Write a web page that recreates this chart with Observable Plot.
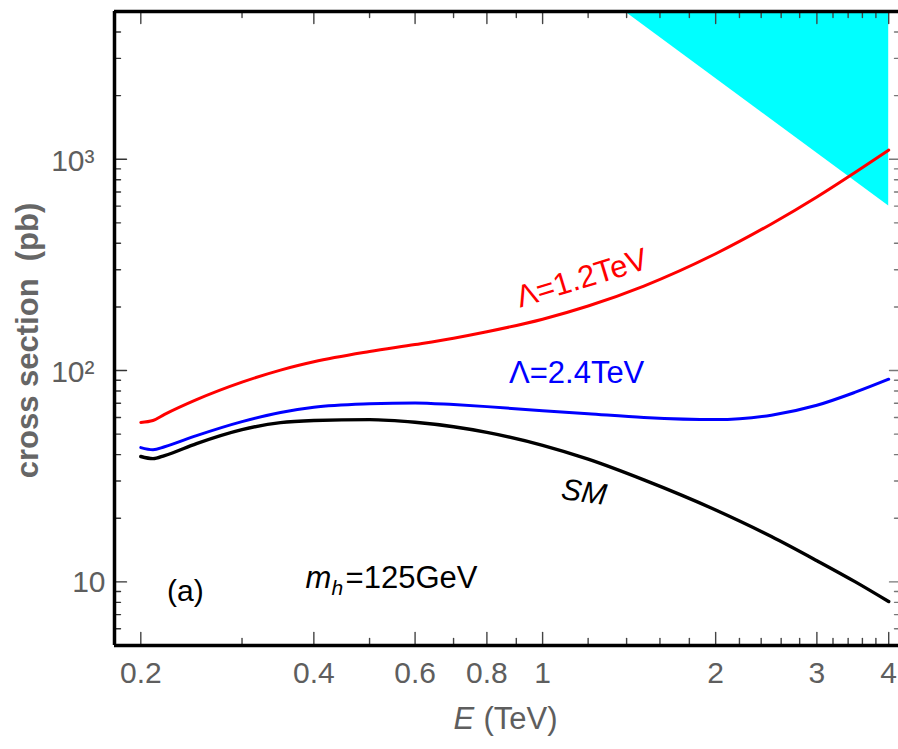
<!DOCTYPE html>
<html>
<head>
<meta charset="utf-8">
<script src="https://cdn.jsdelivr.net/npm/d3@7"></script>
<script src="https://cdn.jsdelivr.net/npm/@observablehq/plot@0.6"></script>
<style>
  html, body { margin: 0; padding: 0; background: #fff; }
  #chart { width: 898px; height: 749px; }
</style>
</head>
<body>
<div id="chart"></div>
<script>
// ---- data ----
const energy = [0.2, 0.21, 0.22, 0.25, 0.3, 0.35, 0.4, 0.5, 0.6, 0.7, 0.8, 1, 1.2, 1.5, 2, 2.5, 3, 3.5, 4];
const sigmaSM = [39.2, 38.3, 39.6, 45.1, 52.5, 56.7, 58.0, 58.6, 56.9, 54.2, 51.0, 44.3, 38.1, 30.4, 21.9, 16.4, 12.6, 10.0, 8.07];
const sigmaL24 = [43.2, 42.2, 43.6, 49.2, 57.3, 63.3, 67.0, 69.6, 70.3, 69, 67.5, 64.6, 62.5, 60.0, 58.6, 61.5, 68.5, 79, 91];
const sigmaL12 = [56.8, 58, 62, 72.8, 88.1, 100.5, 110, 123, 132.8, 142.3, 152.6, 175, 202, 251, 357, 494, 663, 868, 1105];

// excluded (cyan) region boundary
const boundE = [1.39, 4.0];
const boundSigma = [5000, 600];

// ticks
const xMajor = [0.2, 0.4, 0.6, 0.8, 1, 2, 3, 4];
const xMajorLabels = ["0.2", "0.4", "0.6", "0.8", "1", "2", "3", "4"];
const xMinor = [0.3, 0.5, 0.7, 0.9, 1.2, 1.4, 1.6, 1.8, 2.2, 2.4, 2.6, 2.8, 3.2, 3.4, 3.6, 3.8];
const yMajor = [10, 100, 1000];
const yMajorLabels = ["10", "10²", "10³"];
const yMinor = [6, 7, 8, 9, 20, 30, 40, 50, 60, 70, 80, 90, 200, 300, 400, 500, 600, 700, 800, 900, 2000, 3000, 4000];

// ---- build ----
const xDomain = [0.18, 4.16];
const yDomain = [5, 5000];

const rows = (ys) => energy.map((e, i) => ({E: e, s: ys[i]}));
const bound = boundE.map((e, i) => ({E: e, s: boundSigma[i]}));

const tickShape = {draw(context, l) { context.moveTo(0, 0); context.lineTo(0, -l); }};
const tk = (vals, opts) => Plot.vector(vals, {anchor: "start", shape: tickShape, strokeWidth: 1.4, ...opts});

const gray = "#5e5e5e";
const fontFam = "'Liberation Sans', Arial, sans-serif";

const chart = Plot.plot({
  width: 898,
  height: 749,
  marginLeft: 114,
  marginRight: 0,
  marginTop: 11,
  marginBottom: 104,
  x: {type: "log", domain: xDomain, axis: null},
  y: {type: "log", domain: yDomain, axis: null},
  style: {fontFamily: fontFam, background: "white", overflow: "visible"},
  marks: [
    // excluded region
    Plot.area(bound, {x1: "E", y1: "s", y2: yDomain[1], fill: "#00ffff", fillOpacity: 1}),
    // curves
    Plot.line(rows(sigmaSM), {x: "E", y: "s", stroke: "#000000", strokeWidth: 3.4, curve: "monotone-x"}),
    Plot.line(rows(sigmaL24), {x: "E", y: "s", stroke: "#0000ff", strokeWidth: 3, curve: "monotone-x"}),
    Plot.line(rows(sigmaL12), {x: "E", y: "s", stroke: "#ff0000", strokeWidth: 3, curve: "monotone-x"}),

    // ticks bottom (inward)
    tk(xMajor, {x: d => d, y: yDomain[0], rotate: 0, length: 13, stroke: "#444"}),
    tk(xMinor, {x: d => d, y: yDomain[0], rotate: 0, length: 7, stroke: "#444"}),
    // ticks top
    tk(xMajor, {x: d => d, y: yDomain[1], rotate: 180, length: 12, stroke: "#444"}),
    tk(xMinor, {x: d => d, y: yDomain[1], rotate: 180, length: 6, stroke: "#444"}),
    // ticks left
    tk(yMajor, {x: xDomain[0], y: d => d, rotate: 90, length: 12, stroke: "#333"}),
    tk(yMinor, {x: xDomain[0], y: d => d, rotate: 90, length: 6, stroke: "#333"}),
    // ticks right
    tk(yMajor, {x: xDomain[1], y: d => d, rotate: -90, length: 9, stroke: "#777"}),
    tk(yMinor, {x: xDomain[1], y: d => d, rotate: -90, length: 4, stroke: "#777"}),

    // frame lines (left, bottom, top)
    Plot.ruleX([xDomain[0]], {stroke: "#000", strokeWidth: 3.5}),
    Plot.ruleY([yDomain[0]], {stroke: "#000", strokeWidth: 3.5}),
    Plot.ruleY([yDomain[1]], {stroke: "#000", strokeWidth: 3.5}),

    // tick labels
    Plot.text(xMajor, {x: d => d, y: yDomain[0], text: (d, i) => xMajorLabels[i], dy: 28, fontSize: 30, fill: gray}),
    Plot.text(yMajor.slice(0, 1), {x: xDomain[0], y: d => d, text: (d, i) => yMajorLabels[i], textAnchor: "end", dx: -9, dy: 1, fontSize: 30, fill: gray}),
    Plot.text(yMajor.slice(1), {x: xDomain[0], y: d => d, text: (d, i) => yMajorLabels[i + 1], textAnchor: "end", dx: -20, dy: 2, fontSize: 30, fill: gray}),

    // axis titles
    Plot.text(["E"], {frameAnchor: "bottom", textAnchor: "start", dx: -53, dy: 83, fontSize: 31, fontStyle: "italic", fill: gray}),
    Plot.text(["(TeV)"], {frameAnchor: "bottom", textAnchor: "start", dx: -23, dy: 83, fontSize: 31, fill: gray}),
    Plot.text(["cross section  (pb)"], {frameAnchor: "left", textAnchor: "middle", rotate: -90, dx: -86, dy: 12, fontSize: 31, fontWeight: "bold", fill: "#666"}),

    // annotations
    Plot.text(["Λ=1.2TeV"], {x: 1.17, y: 273, rotate: -17, fontSize: 31, fill: "#ff0000"}),
    Plot.text(["Λ=2.4TeV"], {x: 1.146, y: 97, fontSize: 31, fill: "#0000ff"}),
    Plot.text(["SM"], {x: 1.18, y: 26.5, rotate: 8, fontSize: 30, fontStyle: "italic", fill: "#000"}),
    Plot.text(["(a)"], {x: 0.239, y: 9.0, fontSize: 30, fill: "#000"}),
    Plot.text(["m"], {x: 0.387, y: 10.4, textAnchor: "start", fontSize: 31, fontStyle: "italic", fill: "#000"}),
    Plot.text(["h"], {x: 0.387, y: 10.4, textAnchor: "start", dx: 26, dy: 10, fontSize: 21, fontStyle: "italic", fill: "#000"}),
    Plot.text(["=125GeV"], {x: 0.387, y: 10.4, textAnchor: "start", dx: 40, fontSize: 31, fill: "#000"})
  ]
});

document.getElementById("chart").appendChild(chart);
</script>
</body>
</html>
